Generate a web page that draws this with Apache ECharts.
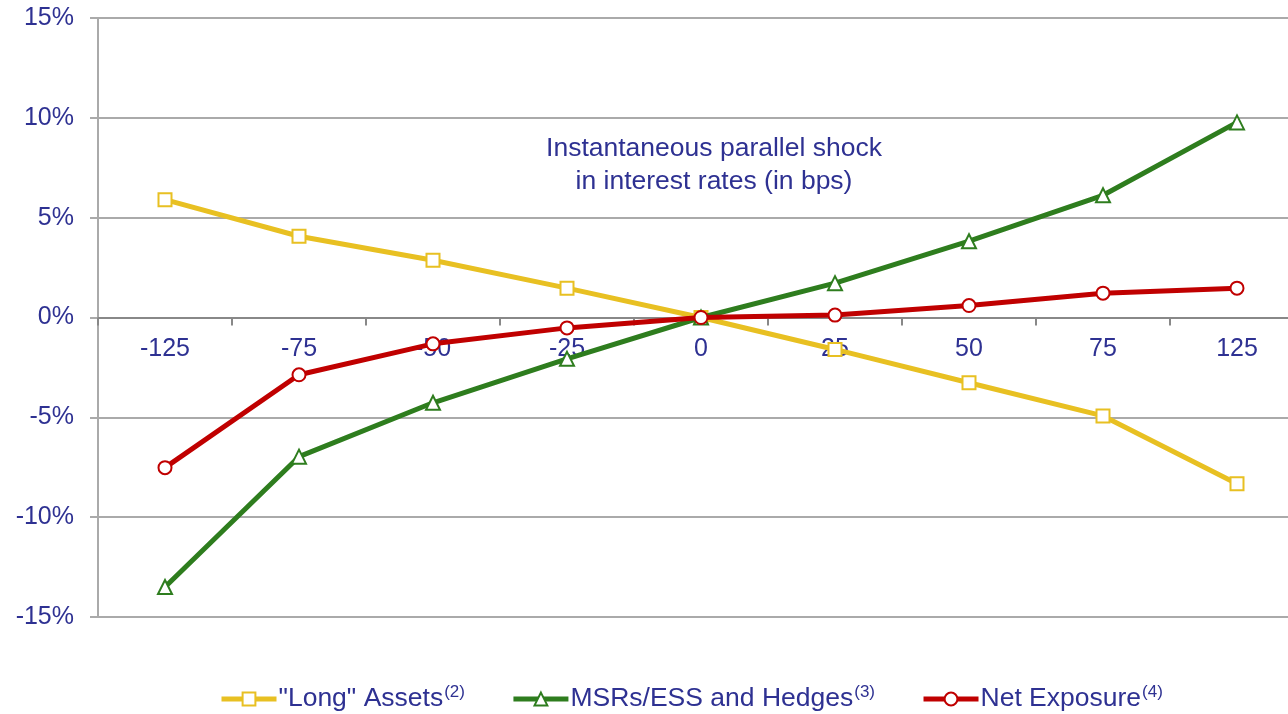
<!DOCTYPE html>
<html>
<head>
<meta charset="utf-8">
<script src="https://cdn.jsdelivr.net/npm/echarts@6/dist/echarts.min.js"></script>
<style>html,body{margin:0;padding:0;background:#fff}#c{width:1288px;height:714px}</style>
</head>
<body>
<div id="c"></div>
<script>
const categories = ['-125', '-75', '-50', '-25', '0', '25', '50', '75', '125'];
const longAssets = [5.9, 4.07, 2.87, 1.47, 0, -1.6, -3.27, -4.93, -8.33];
const msrHedges = [-13.5, -6.97, -4.27, -2.07, 0, 1.72, 3.82, 6.12, 9.77];
const netExposure = [-7.52, -2.87, -1.32, -0.52, 0, 0.12, 0.6, 1.22, 1.47];
const seriesNames = ['"Long" Assets', 'MSRs/ESS and Hedges', 'Net Exposure'];
const footnotes = ['(2)', '(3)', '(4)'];
const annotation = 'Instantaneous parallel shock\nin interest rates (in bps)';

const FONT = '"Liberation Sans", Arial, sans-serif';
const TXT = '#2E3192';
const colors = ['#E8C022', '#2E7D1E', '#C00000'];
const symbols = ['rect', 'triangle', 'circle'];
const dataArr = [longAssets, msrHedges, netExposure];

const chart = echarts.init(document.getElementById('c'));
chart.setOption({
  animation: false,
  backgroundColor: '#fff',
  textStyle: { fontFamily: FONT },
  grid: { left: 98, top: 18, width: 1206, bottom: 97, containLabel: false, outerBoundsMode: 'none' },
  graphic: [{
    type: 'text', x: 714, y: 132,
    style: { text: annotation, fill: TXT, font: '26.5px ' + FONT, textAlign: 'center', textVerticalAlign: 'top', lineHeight: 33 }
  }],
  legend: {
    top: 684, left: 219, padding: 0, itemGap: 46, itemWidth: 55, itemHeight: 16,
    lineStyle: { width: 5 },
    data: seriesNames,
    formatter: function (name) {
      const i = seriesNames.indexOf(name);
      return '{a|' + name + '}{s|' + footnotes[i] + '}';
    },
    textStyle: {
      color: TXT, fontFamily: FONT, padding: [0, 0, 0, -3],
      rich: {
        a: { fontSize: 26.5, lineHeight: 30, color: TXT, fontFamily: FONT },
        s: { fontSize: 17, lineHeight: 17, color: TXT, fontFamily: FONT, verticalAlign: 'top', padding: [0, 0, 0, 1] }
      }
    }
  },
  xAxis: {
    type: 'category', data: categories, boundaryGap: true,
    position: 'bottom', offset: -299.5,
    axisLine: { onZero: false, lineStyle: { color: '#888888', width: 2 } },
    axisTick: { show: true, alignWithLabel: false, length: 8, lineStyle: { color: '#888888', width: 2 } },
    axisLabel: { color: TXT, fontSize: 25, fontFamily: FONT, margin: 19 },
    splitLine: { show: false }
  },
  yAxis: {
    type: 'value', min: -15, max: 15, interval: 5,
    axisLine: { show: true, lineStyle: { color: '#AAAAAA', width: 2 } },
    axisTick: { show: true, length: 8, lineStyle: { color: '#AAAAAA', width: 2 } },
    axisLabel: { color: TXT, fontSize: 25, fontFamily: FONT, margin: 24, formatter: '{value}%' },
    splitLine: { show: true, lineStyle: { color: '#AAAAAA', width: 2 } }
  },
  series: seriesNames.map((n, i) => ({
    name: n, type: 'line', data: dataArr[i],
    symbol: symbols[i], symbolSize: i === 1 ? 14 : 13,
    showAllSymbol: true,
    lineStyle: { color: colors[i], width: 5 },
    itemStyle: { color: '#fff', borderColor: colors[i], borderWidth: 2 },
    z: 3 + (i === 2 ? 2 : i === 1 ? 1 : 0)
  }))
});
</script>
</body>
</html>
